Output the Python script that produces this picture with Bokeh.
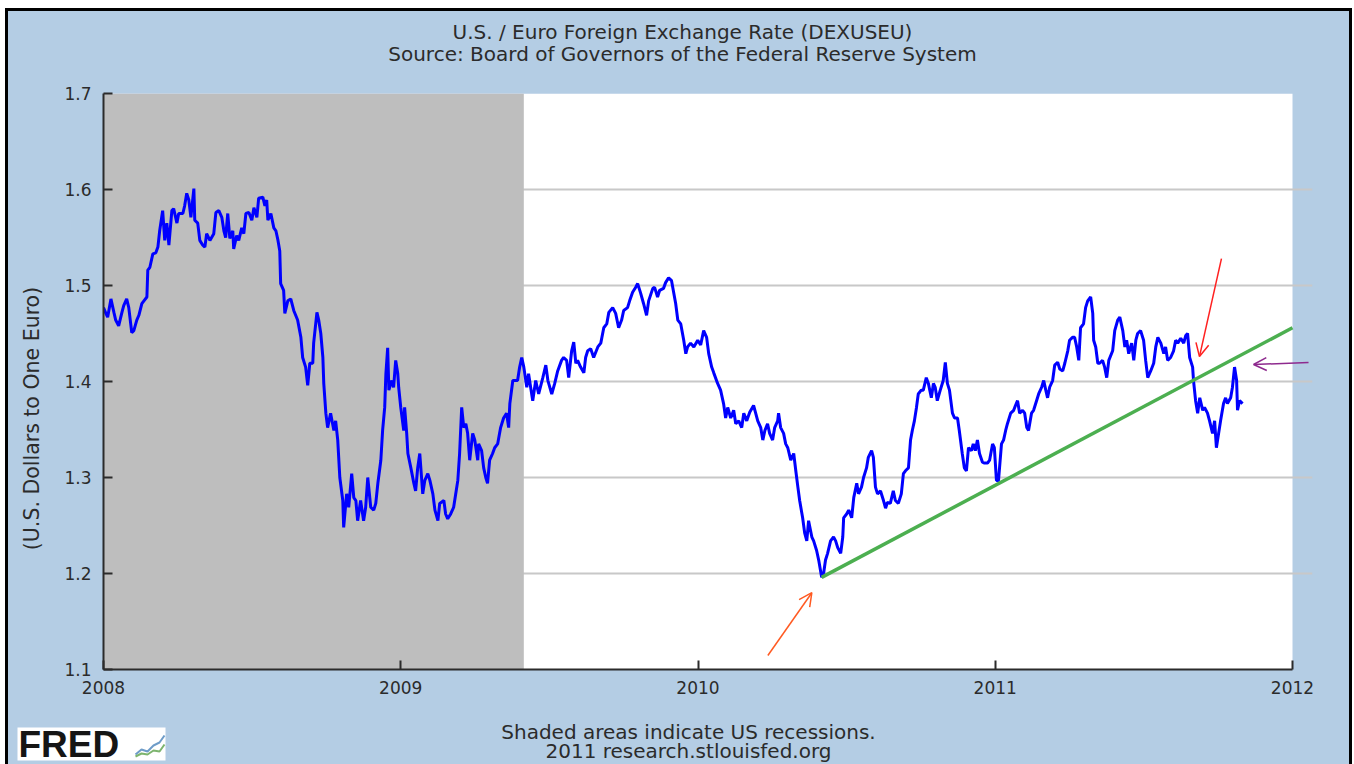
import math
from bokeh.plotting import figure
from bokeh.layouts import column, row
from bokeh.models import (Range1d, FixedTicker, Label, Arrow, OpenHead, NumeralTickFormatter,
                          BoxAnnotation)
from bokeh.embed import file_html
from bokeh.resources import INLINE

# ---------------- data (decimal years, USD per EUR) ----------------
t2008 = [2008.000, 2008.008, 2008.014, 2008.025, 2008.035, 2008.041, 2008.051, 2008.062, 2008.068, 2008.078,
         2008.085, 2008.095, 2008.102, 2008.112, 2008.119, 2008.129, 2008.136, 2008.146, 2008.149, 2008.156,
         2008.166, 2008.176, 2008.183, 2008.189, 2008.199, 2008.206, 2008.213, 2008.220, 2008.230, 2008.236,
         2008.247, 2008.253, 2008.267, 2008.273, 2008.280, 2008.287, 2008.294, 2008.304, 2008.307, 2008.317,
         2008.324, 2008.334, 2008.341, 2008.347, 2008.358, 2008.371, 2008.378, 2008.388, 2008.398, 2008.405,
         2008.411, 2008.418, 2008.425, 2008.435, 2008.438, 2008.448, 2008.455, 2008.465, 2008.472, 2008.479,
         2008.489, 2008.499, 2008.506, 2008.516, 2008.522, 2008.536, 2008.543, 2008.549, 2008.553, 2008.563,
         2008.573, 2008.580, 2008.587, 2008.593, 2008.596, 2008.606, 2008.610, 2008.620, 2008.630, 2008.640,
         2008.653, 2008.664, 2008.670, 2008.680, 2008.687, 2008.694, 2008.704, 2008.707, 2008.718, 2008.724,
         2008.731, 2008.738, 2008.741, 2008.748, 2008.754, 2008.764, 2008.775, 2008.781, 2008.788, 2008.795,
         2008.805, 2008.808, 2008.818, 2008.825, 2008.835, 2008.842, 2008.849, 2008.855, 2008.865, 2008.875,
         2008.882, 2008.889, 2008.899, 2008.909, 2008.916, 2008.923, 2008.933, 2008.939, 2008.946, 2008.950,
         2008.956, 2008.960, 2008.970, 2008.976, 2008.983, 2008.990, 2008.993]
v2008 = [1.477, 1.471, 1.467, 1.486, 1.472, 1.464, 1.458, 1.472, 1.479, 1.486,
         1.477, 1.451, 1.453, 1.464, 1.469, 1.481, 1.484, 1.488, 1.516, 1.519,
         1.533, 1.534, 1.540, 1.557, 1.578, 1.547, 1.565, 1.542, 1.578, 1.580,
         1.565, 1.575, 1.575, 1.583, 1.596, 1.589, 1.571, 1.601, 1.568, 1.565,
         1.547, 1.542, 1.540, 1.554, 1.547, 1.554, 1.576, 1.578, 1.571, 1.557,
         1.550, 1.575, 1.549, 1.557, 1.538, 1.552, 1.547, 1.560, 1.554, 1.575,
         1.576, 1.568, 1.581, 1.571, 1.591, 1.592, 1.583, 1.589, 1.568, 1.575,
         1.560, 1.557, 1.547, 1.536, 1.502, 1.495, 1.471, 1.484, 1.486, 1.474,
         1.464, 1.446, 1.425, 1.415, 1.396, 1.419, 1.419, 1.440, 1.472, 1.464,
         1.450, 1.425, 1.398, 1.367, 1.352, 1.367, 1.349, 1.359, 1.339, 1.300,
         1.276, 1.248, 1.283, 1.269, 1.304, 1.279, 1.276, 1.255, 1.276, 1.255,
         1.269, 1.300, 1.269, 1.266, 1.273, 1.294, 1.318, 1.349, 1.373, 1.408,
         1.435, 1.391, 1.401, 1.394, 1.422, 1.408, 1.394]

t2009 = [2009.000, 2009.010, 2009.013, 2009.020, 2009.024, 2009.034, 2009.044, 2009.050, 2009.057, 2009.064,
         2009.074, 2009.081, 2009.091, 2009.098, 2009.108, 2009.115, 2009.125, 2009.131, 2009.145, 2009.151,
         2009.158, 2009.168, 2009.178, 2009.185, 2009.192, 2009.198, 2009.205, 2009.212, 2009.219, 2009.225,
         2009.232, 2009.242, 2009.249, 2009.259, 2009.262, 2009.272, 2009.279, 2009.286, 2009.292, 2009.299,
         2009.309, 2009.316, 2009.326, 2009.336, 2009.346, 2009.356, 2009.363, 2009.367, 2009.377, 2009.383,
         2009.393, 2009.400, 2009.407, 2009.414, 2009.424, 2009.430, 2009.444, 2009.454, 2009.464, 2009.478,
         2009.488, 2009.495, 2009.508, 2009.518, 2009.528, 2009.541, 2009.548, 2009.558, 2009.565, 2009.575,
         2009.582, 2009.589, 2009.595, 2009.605, 2009.616, 2009.622, 2009.629, 2009.639, 2009.649, 2009.663,
         2009.673, 2009.683, 2009.693, 2009.700, 2009.713, 2009.723, 2009.733, 2009.743, 2009.750, 2009.763,
         2009.770, 2009.780, 2009.790, 2009.797, 2009.807, 2009.817, 2009.827, 2009.834, 2009.848, 2009.854,
         2009.864, 2009.871, 2009.884, 2009.891, 2009.901, 2009.911, 2009.918, 2009.925, 2009.932, 2009.942,
         2009.952, 2009.959, 2009.965, 2009.975, 2009.986, 2009.999]
v2009 = [1.373, 1.349, 1.373, 1.346, 1.325, 1.310, 1.294, 1.286, 1.310, 1.325,
         1.283, 1.297, 1.304, 1.297, 1.283, 1.266, 1.255, 1.273, 1.276, 1.262,
         1.257, 1.262, 1.269, 1.283, 1.297, 1.325, 1.373, 1.352, 1.356, 1.346,
         1.318, 1.346, 1.339, 1.318, 1.335, 1.328, 1.310, 1.300, 1.294, 1.318,
         1.325, 1.331, 1.335, 1.352, 1.362, 1.367, 1.352, 1.377, 1.401, 1.401,
         1.401, 1.415, 1.425, 1.415, 1.394, 1.408, 1.380, 1.401, 1.387, 1.404,
         1.417, 1.401, 1.387, 1.398, 1.411, 1.422, 1.425, 1.422, 1.404, 1.432,
         1.441, 1.419, 1.422, 1.415, 1.409, 1.425, 1.432, 1.434, 1.425, 1.436,
         1.440, 1.456, 1.460, 1.472, 1.477, 1.471, 1.456, 1.464, 1.474, 1.477,
         1.484, 1.493, 1.498, 1.502, 1.492, 1.481, 1.469, 1.484, 1.497, 1.498,
         1.488, 1.495, 1.497, 1.503, 1.508, 1.505, 1.493, 1.481, 1.464, 1.460,
         1.443, 1.429, 1.436, 1.440, 1.436, 1.443]

t2010 = [2010.009, 2010.019, 2010.029, 2010.036, 2010.046, 2010.053, 2010.066, 2010.076, 2010.086, 2010.093,
         2010.100, 2010.110, 2010.120, 2010.127, 2010.137, 2010.147, 2010.154, 2010.164, 2010.174, 2010.187,
         2010.194, 2010.201, 2010.211, 2010.218, 2010.225, 2010.234, 2010.241, 2010.251, 2010.258, 2010.268,
         2010.271, 2010.278, 2010.288, 2010.295, 2010.302, 2010.312, 2010.322, 2010.329, 2010.336, 2010.342,
         2010.352, 2010.359, 2010.366, 2010.372, 2010.383, 2010.389, 2010.399, 2010.406, 2010.416, 2010.423,
         2010.429, 2010.436, 2010.446, 2010.456, 2010.463, 2010.470, 2010.480, 2010.487, 2010.490, 2010.500,
         2010.507, 2010.517, 2010.524, 2010.534, 2010.540, 2010.550, 2010.557, 2010.567, 2010.573, 2010.584,
         2010.590, 2010.597, 2010.604, 2010.614, 2010.624, 2010.631, 2010.637, 2010.647, 2010.657, 2010.664,
         2010.674, 2010.684, 2010.691, 2010.698, 2010.708, 2010.715, 2010.721, 2010.728, 2010.735, 2010.741,
         2010.751, 2010.758, 2010.768, 2010.775, 2010.785, 2010.792, 2010.798, 2010.805, 2010.815, 2010.825,
         2010.832, 2010.839, 2010.846, 2010.856, 2010.863, 2010.873, 2010.879, 2010.889, 2010.896, 2010.903,
         2010.910, 2010.920, 2010.926, 2010.933, 2010.940, 2010.947, 2010.957, 2010.964, 2010.974, 2010.981,
         2010.991, 2010.997]
v2010 = [1.438, 1.453, 1.446, 1.429, 1.415, 1.409, 1.398, 1.391, 1.377, 1.362,
         1.373, 1.362, 1.370, 1.356, 1.359, 1.352, 1.367, 1.359, 1.368, 1.375,
         1.367, 1.359, 1.352, 1.339, 1.349, 1.356, 1.346, 1.339, 1.352, 1.359,
         1.367, 1.352, 1.346, 1.335, 1.331, 1.318, 1.325, 1.307, 1.290, 1.276,
         1.258, 1.242, 1.234, 1.255, 1.238, 1.234, 1.224, 1.214, 1.196, 1.201,
         1.214, 1.221, 1.234, 1.238, 1.234, 1.227, 1.221, 1.238, 1.258, 1.262,
         1.266, 1.258, 1.279, 1.294, 1.283, 1.290, 1.300, 1.310, 1.321, 1.328,
         1.321, 1.290, 1.283, 1.286, 1.276, 1.268, 1.274, 1.273, 1.286, 1.276,
         1.273, 1.283, 1.304, 1.307, 1.310, 1.339, 1.349, 1.359, 1.373, 1.387,
         1.391, 1.391, 1.404, 1.398, 1.383, 1.398, 1.394, 1.380, 1.391, 1.401,
         1.420, 1.398, 1.391, 1.367, 1.362, 1.362, 1.349, 1.325, 1.310, 1.307,
         1.331, 1.328, 1.335, 1.328, 1.339, 1.325, 1.316, 1.315, 1.315, 1.318,
         1.335, 1.331]

t2011 = [2011.004, 2011.011, 2011.021, 2011.028, 2011.035, 2011.041, 2011.052, 2011.062, 2011.068, 2011.075,
         2011.082, 2011.092, 2011.099, 2011.106, 2011.112, 2011.122, 2011.129, 2011.139, 2011.146, 2011.156,
         2011.163, 2011.170, 2011.176, 2011.183, 2011.193, 2011.200, 2011.210, 2011.217, 2011.227, 2011.234,
         2011.244, 2011.250, 2011.260, 2011.267, 2011.274, 2011.281, 2011.287, 2011.297, 2011.304, 2011.311,
         2011.321, 2011.328, 2011.331, 2011.338, 2011.345, 2011.351, 2011.361, 2011.368, 2011.375, 2011.382,
         2011.395, 2011.402, 2011.412, 2011.419, 2011.429, 2011.436, 2011.442, 2011.449, 2011.459, 2011.466,
         2011.473, 2011.479, 2011.489, 2011.499, 2011.506, 2011.513, 2011.523, 2011.533, 2011.540, 2011.547,
         2011.557, 2011.567, 2011.573, 2011.580, 2011.590, 2011.600, 2011.607, 2011.614, 2011.624, 2011.634,
         2011.641, 2011.647, 2011.654, 2011.664, 2011.667, 2011.674, 2011.681, 2011.688, 2011.698, 2011.704,
         2011.714, 2011.721, 2011.731, 2011.738, 2011.744, 2011.748, 2011.758, 2011.768, 2011.775, 2011.781,
         2011.792, 2011.798, 2011.805, 2011.812, 2011.815, 2011.822, 2011.832]
v2011 = [1.297, 1.297, 1.335, 1.339, 1.349, 1.356, 1.367, 1.370, 1.375, 1.380,
         1.367, 1.370, 1.367, 1.352, 1.349, 1.367, 1.370, 1.380, 1.387, 1.394,
         1.401, 1.391, 1.383, 1.394, 1.401, 1.417, 1.420, 1.413, 1.411, 1.419,
         1.432, 1.443, 1.446, 1.446, 1.436, 1.422, 1.456, 1.460, 1.477, 1.484,
         1.488, 1.471, 1.443, 1.436, 1.419, 1.419, 1.422, 1.415, 1.404, 1.422,
         1.432, 1.453, 1.464, 1.467, 1.453, 1.436, 1.443, 1.429, 1.440, 1.422,
         1.443, 1.450, 1.453, 1.443, 1.422, 1.404, 1.411, 1.419, 1.436, 1.446,
         1.440, 1.429, 1.436, 1.422, 1.425, 1.432, 1.443, 1.440, 1.445, 1.440,
         1.448, 1.450, 1.425, 1.415, 1.401, 1.380, 1.367, 1.383, 1.370, 1.373,
         1.367, 1.359, 1.346, 1.359, 1.331, 1.339, 1.359, 1.377, 1.383, 1.377,
         1.383, 1.394, 1.415, 1.401, 1.370, 1.380, 1.377]

# recession (Dec 2007 - Jun 2009)
recession_start = [2007.917]
recession_end = [2009.414]

# hand-drawn support (trend) line and annotation arrows
trend_x = [2010.416, 2012.0]
trend_y = [1.196, 1.456]
arrow_orange = dict(x_start=2010.235, y_start=1.1146, x_end=2010.383, y_end=1.180)
arrow_red = dict(x_start=2011.761, y_start=1.528, x_end=2011.687, y_end=1.426)
arrow_purple = dict(x_start=2012.054, y_start=1.4198, x_end=2011.869, y_end=1.4177)

x_ticks = [2008, 2009, 2010, 2011, 2012]
y_ticks = [1.1, 1.2, 1.3, 1.4, 1.5, 1.6, 1.7]
x_min, x_max = 2008, 2012
y_min, y_max = 1.1, 1.7

title_1 = "U.S. / Euro Foreign Exchange Rate (DEXUSEU)"
title_2 = "Source: Board of Governors of the Federal Reserve System"
y_label = "(U.S. Dollars to One Euro)"
note_1 = "Shaded areas indicate US recessions."
note_2 = "2011 research.stlouisfed.org"

years = t2008 + t2009 + t2010 + t2011
rates = v2008 + v2009 + v2010 + v2011

# ---------------- styling ----------------
BG = "#B4CDE4"
TXT = "#2B2B2B"
FONT = "DejaVu Sans"
W = 1341
STRIP = 50
MAIN_H = 625


def no_align(f):
    if "frame_align" in f.properties():
        f.frame_align = False
    return f


def banner(width, height):
    f = figure(width=width, height=height, output_backend="svg", toolbar_location=None,
               x_range=Range1d(0, width), y_range=Range1d(0, height),
               x_axis_type=None, y_axis_type=None, min_border=0)
    f.min_border_left = f.min_border_right = f.min_border_top = f.min_border_bottom = 0
    f.background_fill_color = BG
    f.border_fill_color = BG
    f.outline_line_color = None
    return no_align(f)


def add_text(f, text, x, y, size="20px", angle=0.0):
    f.add_layout(Label(text=text, x=x, y=y, angle=angle, text_font=FONT, text_font_size=size,
                       text_color=TXT, text_align="center", text_baseline="middle"))


# header with the two title lines
header = banner(W, 72)
add_text(header, title_1, 674, 52)
add_text(header, title_2, 674, 30)

# left strip carrying the y-axis caption
strip = banner(STRIP, MAIN_H)
add_text(strip, y_label, 23, 290, size="20.5px", angle=math.pi / 2)

# main chart
ext = 20 / 297.25  # a little room right of 2012 for the arrow tail
p = figure(width=W - STRIP, height=MAIN_H, output_backend="svg", toolbar_location=None,
           x_range=Range1d(x_min, x_max + ext), y_range=Range1d(y_min, y_max),
           min_border_left=45, min_border_right=37, min_border_top=10, min_border_bottom=39)
no_align(p)
p.background_fill_color = BG
p.border_fill_color = BG
p.outline_line_color = None

# white plot area 2008-2012, drawn below the grid
p.add_layout(BoxAnnotation(left=x_min, right=x_max, fill_color="white", fill_alpha=1.0,
                           line_color=None, level="image"))

p.xgrid.visible = False
p.ygrid.ticker = FixedTicker(ticks=y_ticks[1:-1])
p.ygrid.grid_line_color = "#C8C8C8"
p.ygrid.grid_line_width = 2
p.ygrid.bounds = (x_min, x_max)

p.xaxis.ticker = FixedTicker(ticks=x_ticks)
p.yaxis.ticker = FixedTicker(ticks=y_ticks)
p.xaxis.bounds = (x_min, x_max)
p.xaxis.formatter = NumeralTickFormatter(format="0")
p.yaxis.formatter = NumeralTickFormatter(format="0.0")
for ax in (p.xaxis, p.yaxis):
    ax.axis_line_color = TXT
    ax.axis_line_width = 2
    ax.major_tick_line_color = TXT
    ax.major_tick_line_width = 2
    ax.major_tick_in = 9
    ax.major_tick_out = 0
    ax.minor_tick_line_color = None
    ax.major_label_text_font = FONT
    ax.major_label_text_font_size = "17px"
    ax.major_label_text_color = TXT
p.xaxis.major_label_standoff = 11
p.yaxis.major_label_standoff = 12

# recession shading
p.quad(left=recession_start, right=recession_end, bottom=[y_min], top=[y_max],
       fill_color="#BEBEBE", line_color=None)

# series
p.line(years, rates, line_color="#0000FF", line_width=3)

# trend line
p.line(trend_x, trend_y, line_color="#4CAF50", line_width=3.5)

# arrows
for spec, col in ((arrow_orange, "#FF5A22"), (arrow_red, "#FF2020"), (arrow_purple, "#8E2A8E")):
    p.add_layout(Arrow(end=OpenHead(size=13, line_color=col, line_width=1.5),
                       line_color=col, line_width=1.5, **spec))

# footer with notes and logo
footer = banner(W, 56)
add_text(footer, note_1, 680, 33)
add_text(footer, note_2, 680, 14)
footer.quad(left=[9], right=[157], bottom=[4], top=[37], fill_color="white", line_color=None)
footer.add_layout(Label(text="FRED", x=10, y=20, text_font="Liberation Sans",
                        text_font_style="bold", text_font_size="37px", text_color="#151515",
                        text_align="left", text_baseline="middle"))
footer.line([127, 133, 139, 145, 151, 156], [10, 15, 13, 19, 22, 29], line_color="#6E9CC8", line_width=2)
footer.line([127, 133, 139, 145, 151, 156], [8, 11, 10, 14, 13, 20], line_color="#7DB46E", line_width=2)

middle = row(strip, p, spacing=0, styles={"background-color": BG})
layout = column(header, middle, footer, spacing=0,
                styles={"margin-left": "5px", "margin-top": "8px", "border": "3px solid black",
                        "background-color": BG})

open("out.html", "w").write(file_html(layout, INLINE))
